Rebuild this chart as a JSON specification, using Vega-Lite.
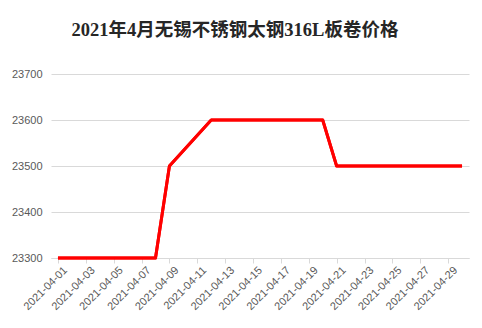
{
  "$schema": "https://vega.github.io/schema/vega-lite/v6.json",
  "autosize": "none",
  "width": 418,
  "height": 184,
  "padding": {"left": 51, "top": 74, "right": 13, "bottom": 70},
  "background": "#ffffff",
  "title": {
    "text": "2021年4月无锡不锈钢太钢316L板卷价格",
    "font": "Liberation Serif, Noto Sans CJK SC",
    "fontSize": 18.5,
    "fontWeight": "bold",
    "color": "#262626",
    "anchor": "middle",
    "dx": -25,
    "offset": 29
  },
  "data": {
    "values": [
      {"date": "2021-04-01", "price": 23300},
      {"date": "2021-04-02", "price": 23300},
      {"date": "2021-04-05", "price": 23300},
      {"date": "2021-04-06", "price": 23300},
      {"date": "2021-04-07", "price": 23300},
      {"date": "2021-04-08", "price": 23300},
      {"date": "2021-04-09", "price": 23500},
      {"date": "2021-04-12", "price": 23600},
      {"date": "2021-04-13", "price": 23600},
      {"date": "2021-04-14", "price": 23600},
      {"date": "2021-04-15", "price": 23600},
      {"date": "2021-04-16", "price": 23600},
      {"date": "2021-04-19", "price": 23600},
      {"date": "2021-04-20", "price": 23600},
      {"date": "2021-04-21", "price": 23500},
      {"date": "2021-04-22", "price": 23500},
      {"date": "2021-04-23", "price": 23500},
      {"date": "2021-04-26", "price": 23500},
      {"date": "2021-04-27", "price": 23500},
      {"date": "2021-04-28", "price": 23500},
      {"date": "2021-04-29", "price": 23500},
      {"date": "2021-04-30", "price": 23500}
    ]
  },
  "resolve": {"axis": {"x": "independent"}},
  "layer": [
    {
      "mark": {"type": "line", "color": "#ff0000", "strokeWidth": 3, "strokeJoin": "round", "strokeCap": "butt"},
      "encoding": {
        "x": {
          "field": "date",
          "type": "ordinal",
          "sort": null,
          "scale": {
            "domain": ["2021-04-01","2021-04-02","2021-04-03","2021-04-04","2021-04-05","2021-04-06","2021-04-07","2021-04-08","2021-04-09","2021-04-10","2021-04-11","2021-04-12","2021-04-13","2021-04-14","2021-04-15","2021-04-16","2021-04-17","2021-04-18","2021-04-19","2021-04-20","2021-04-21","2021-04-22","2021-04-23","2021-04-24","2021-04-25","2021-04-26","2021-04-27","2021-04-28","2021-04-29","2021-04-30"],
            "paddingInner": 0,
            "paddingOuter": 0
          },
          "axis": {
            "orient": "bottom",
            "title": null,
            "values": ["2021-04-01","2021-04-03","2021-04-05","2021-04-07","2021-04-09","2021-04-11","2021-04-13","2021-04-15","2021-04-17","2021-04-19","2021-04-21","2021-04-23","2021-04-25","2021-04-27","2021-04-29"],
            "bandPosition": 0,
            "labels": false,
            "grid": false,
            "domain": true,
            "domainColor": "#d9d9d9",
            "ticks": true,
            "tickColor": "#d9d9d9",
            "tickSize": 5
          }
        },
        "y": {
          "field": "price",
          "type": "quantitative",
          "scale": {"domain": [23300, 23700], "zero": false, "nice": false},
          "axis": {
            "title": null,
            "values": [23300, 23400, 23500, 23600, 23700],
            "format": "d",
            "domain": false,
            "ticks": false,
            "grid": true,
            "gridColor": "#d9d9d9",
            "labelColor": "#595959",
            "labelFont": "Liberation Sans",
            "labelFontSize": 11,
            "labelPadding": 9
          }
        }
      }
    },
    {
      "mark": {"type": "line", "color": "#ff0000", "strokeWidth": 3, "strokeJoin": "round", "strokeCap": "butt"},
      "encoding": {
        "x": {
          "field": "date",
          "type": "ordinal",
          "sort": null,
          "axis": {
            "orient": "bottom",
            "title": null,
            "values": ["2021-04-01","2021-04-03","2021-04-05","2021-04-07","2021-04-09","2021-04-11","2021-04-13","2021-04-15","2021-04-17","2021-04-19","2021-04-21","2021-04-23","2021-04-25","2021-04-27","2021-04-29"],
            "labelAngle": -45,
            "labelAlign": "right",
            "labelBaseline": "top",
            "labelColor": "#595959",
            "labelFont": "Liberation Sans",
            "labelFontSize": 11,
            "labelPadding": 6,
            "labelOffset": 3,
            "grid": false,
            "domain": false,
            "ticks": false
          }
        },
        "y": {"field": "price", "type": "quantitative"}
      }
    }
  ],
  "config": {"view": {"stroke": null}}
}
